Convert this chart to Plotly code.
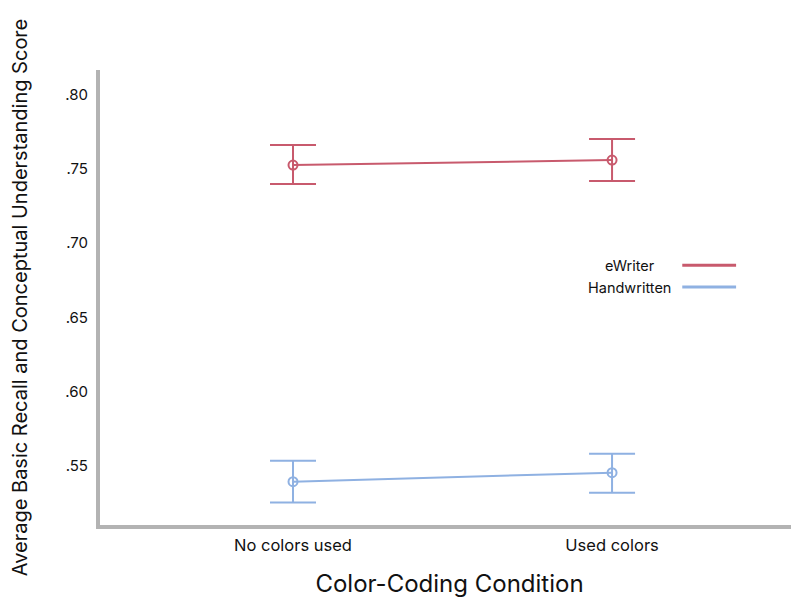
import plotly.graph_objects as go

categories = ["No colors used", "Used colors"]
ewriter_mean = [0.7527, 0.7561]
ewriter_upper = [0.7662, 0.7702]
ewriter_lower = [0.7399, 0.7419]
hand_mean = [0.5392, 0.5453]
hand_upper = [0.5534, 0.5581]
hand_lower = [0.5251, 0.5318]
ytick_vals = [0.55, 0.60, 0.65, 0.70, 0.75, 0.80]
ytick_text = [".55", ".60", ".65", ".70", ".75", ".80"]

RED = "#c85a6d"
BLUE = "#8fb1e2"
FONT = "Inter, Liberation Sans, Arial, sans-serif"

fig = go.Figure()

def add_series(name, mean, upper, lower, color):
    fig.add_trace(go.Scatter(
        x=[0, 1], y=mean, name=name, mode="lines+markers",
        line=dict(color=color, width=2),
        marker=dict(symbol="circle-open", size=9, color=color, line=dict(width=2)),
        error_y=dict(type="data", symmetric=False,
                     array=[u - m for u, m in zip(upper, mean)],
                     arrayminus=[m - l for m, l in zip(mean, lower)],
                     color=color, thickness=2, width=23),
        showlegend=False,
    ))

add_series("eWriter", ewriter_mean, ewriter_upper, ewriter_lower, RED)
add_series("Handwritten", hand_mean, hand_upper, hand_lower, BLUE)

# custom legend (text left, line right)
legend_items = [("eWriter", RED), ("Handwritten", BLUE)]
leg_y = [0.571, 0.523]
for (label, col), yy in zip(legend_items, leg_y):
    fig.add_annotation(xref="paper", yref="paper", x=0.758, y=yy, text=label,
                       showarrow=False, xanchor="center", yanchor="middle",
                       font=dict(family=FONT, size=14.5, color="#111"))
    fig.add_shape(type="line", xref="paper", yref="paper", x0=0.833, x1=0.910,
                  y0=yy, y1=yy, line=dict(color=col, width=3))

fig.update_layout(
    width=791, height=593,
    margin=dict(l=92, r=0, t=62, b=76),
    paper_bgcolor="white", plot_bgcolor="white",
    font=dict(family=FONT, color="#111"),
    xaxis=dict(
        range=[-0.605, 1.586], tickvals=[0, 1], ticktext=categories,
        showgrid=False, zeroline=False, showline=True, linecolor="#b3b3b3", linewidth=4,
        ticks="", ticklabelstandoff=2, tickfont=dict(size=16.5, family=FONT),
        automargin=False,
        title=dict(text="Color-Coding Condition", font=dict(size=24, family=FONT), standoff=22),
    ),
    yaxis=dict(
        range=[0.510, 0.8168], tickvals=ytick_vals, ticktext=ytick_text,
        showgrid=False, zeroline=False, showline=True, linecolor="#b3b3b3", linewidth=4,
        ticks="", ticklabelstandoff=5, tickfont=dict(size=15, family=FONT),
        automargin=False,
        title=dict(text="Average Basic Recall and Conceptual Understanding Score",
                   font=dict(size=20, family=FONT), standoff=41),
    ),
)

fig.write_html("out.html")
